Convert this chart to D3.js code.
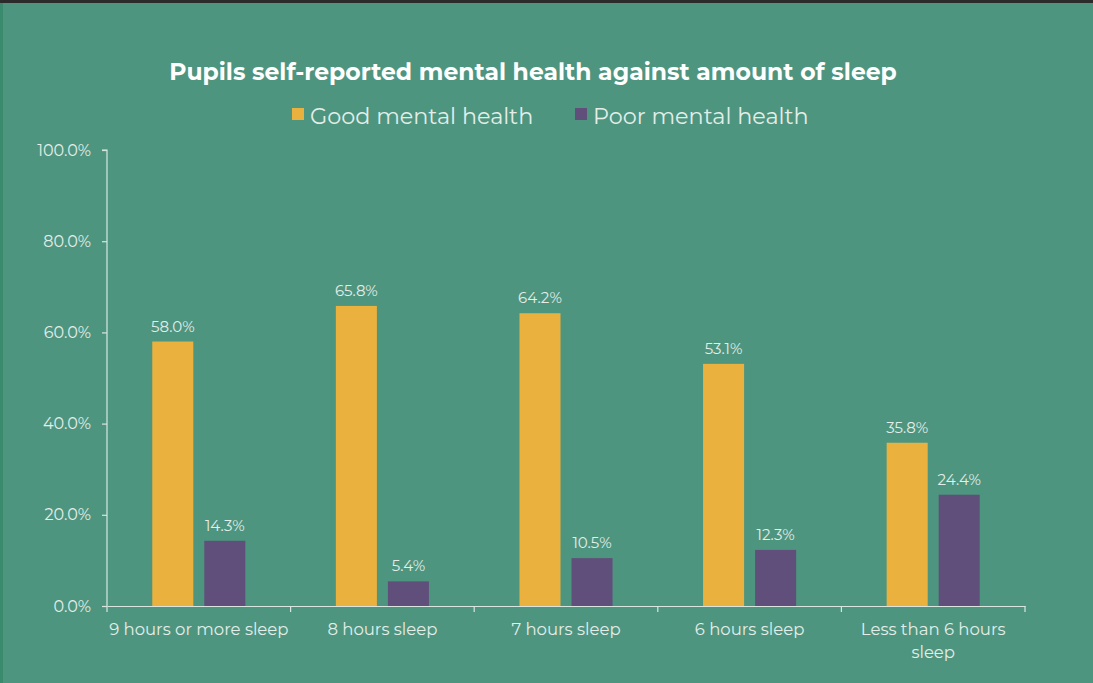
<!DOCTYPE html>
<html><head><meta charset="utf-8">
<script src="https://cdn.jsdelivr.net/npm/d3@7"></script>
<style>
html,body{margin:0;padding:0;background:#4e9580;}
svg{display:block;}
</style></head>
<body>
<script>
const categories = ["9 hours or more sleep","8 hours sleep","7 hours sleep","6 hours sleep","Less than 6 hours sleep"];
const seriesNames = ["Good mental health","Poor mental health"];
const goodValues = [58.0, 65.8, 64.2, 53.1, 35.8];
const poorValues = [14.3, 5.4, 10.5, 12.3, 24.4];
const yTicks = [0, 20, 40, 60, 80, 100];
const colors = ["#eab13e", "#604f7a"];

(function(){
const W = 1093, H = 683;
const svg = d3.select("body").append("svg").attr("width", W).attr("height", H);
svg.append("rect").attr("width", W).attr("height", H).attr("fill", "#4e9580");
svg.append("rect").attr("width", W).attr("height", 3).attr("fill", "#2b2b2b");
svg.append("rect").attr("y", 3).attr("width", 3).attr("height", H).attr("fill", "#3a8a6e");

const pLeft = 107, pRight = 1025, pTop = 150, pBottom = 606;
const x = d3.scaleBand().domain(categories).range([pLeft, pRight]).paddingInner(0).paddingOuter(0);
const y = d3.scaleLinear().domain([0, 100]).range([pBottom, pTop]);
const xs = d3.scaleBand().domain(seriesNames).range([0, x.bandwidth()]).paddingInner(0.2115).paddingOuter(0.87);

const textCol = "#e3eee9";
const font = "Montserrat, 'Open Sans', 'Noto Sans', sans-serif";

svg.append("text").attr("x", 533).attr("y", 80).attr("text-anchor", "middle")
  .attr("fill", "#ffffff").attr("font-family", font).attr("font-weight", "bold").attr("font-size", 23.5)
  .text("Pupils self-reported mental health against amount of sleep");

const legendItems = [{name: seriesNames[0], x: 292}, {name: seriesNames[1], x: 575}];
legendItems.forEach((it, i) => {
  svg.append("rect").attr("x", it.x).attr("y", 108).attr("width", 12).attr("height", 12).attr("fill", colors[i]);
  svg.append("text").attr("x", it.x + 18).attr("y", 123.5).attr("fill", textCol)
    .attr("font-family", font).attr("font-size", 22.3).text(it.name);
});

const yAxis = d3.axisLeft(y).tickValues(yTicks).tickFormat(d => d.toFixed(1) + "%").tickSize(5).tickPadding(11);
const gy = svg.append("g").attr("transform", `translate(${pLeft},0)`).call(yAxis);
gy.select(".domain").attr("stroke", "#d8e6df").attr("stroke-width", 1.2).attr("d", `M-5,${pTop}H0V${pBottom}`);
gy.selectAll(".tick line").attr("stroke", "#d8e6df").attr("stroke-width", 1.2);
gy.selectAll(".tick text").attr("fill", textCol).attr("font-family", font).attr("font-size", 16);

const data = categories.map((c, i) => ({cat: c, vals: [goodValues[i], poorValues[i]]}));
const groups = svg.append("g").selectAll("g").data(data).join("g")
  .attr("transform", d => `translate(${x(d.cat)},0)`);
groups.selectAll("rect").data(d => d.vals.map((v, j) => ({v, s: seriesNames[j], j})))
  .join("rect")
  .attr("x", d => xs(d.s)).attr("width", xs.bandwidth())
  .attr("y", d => y(d.v)).attr("height", d => pBottom - y(d.v))
  .attr("fill", d => colors[d.j]);
groups.selectAll("text.lbl").data(d => d.vals.map((v, j) => ({v, s: seriesNames[j], j})))
  .join("text").attr("class", "lbl")
  .attr("x", d => xs(d.s) + xs.bandwidth() / 2).attr("y", d => y(d.v) - 10)
  .attr("text-anchor", "middle").attr("fill", textCol).attr("font-family", font).attr("font-size", 15)
  .text(d => d.v.toFixed(1) + "%");

const xAxis = d3.axisBottom(x).tickSize(0).tickPadding(17);
const gx = svg.append("g").attr("transform", `translate(0,${pBottom})`).call(xAxis);
gx.select(".domain").attr("stroke", "#d8e6df").attr("stroke-width", 1.2);
const boundaries = categories.map(c => x(c)).concat([pRight]);
gx.selectAll("line.bd").data(boundaries).join("line").attr("class", "bd")
  .attr("x1", d => d).attr("x2", d => d).attr("y1", 0).attr("y2", 6)
  .attr("stroke", "#d8e6df").attr("stroke-width", 1.2);
gx.selectAll(".tick text").attr("fill", textCol).attr("font-family", font).attr("font-size", 16.5)
  .each(function(d) {
    const t = d3.select(this);
    if (d === "Less than 6 hours sleep") {
      t.text(null);
      t.append("tspan").attr("x", 0).attr("dy", "0.71em").text("Less than 6 hours");
      t.append("tspan").attr("x", 0).attr("dy", "1.4em").text("sleep");
    }
  });
})();
</script>
</body></html>
